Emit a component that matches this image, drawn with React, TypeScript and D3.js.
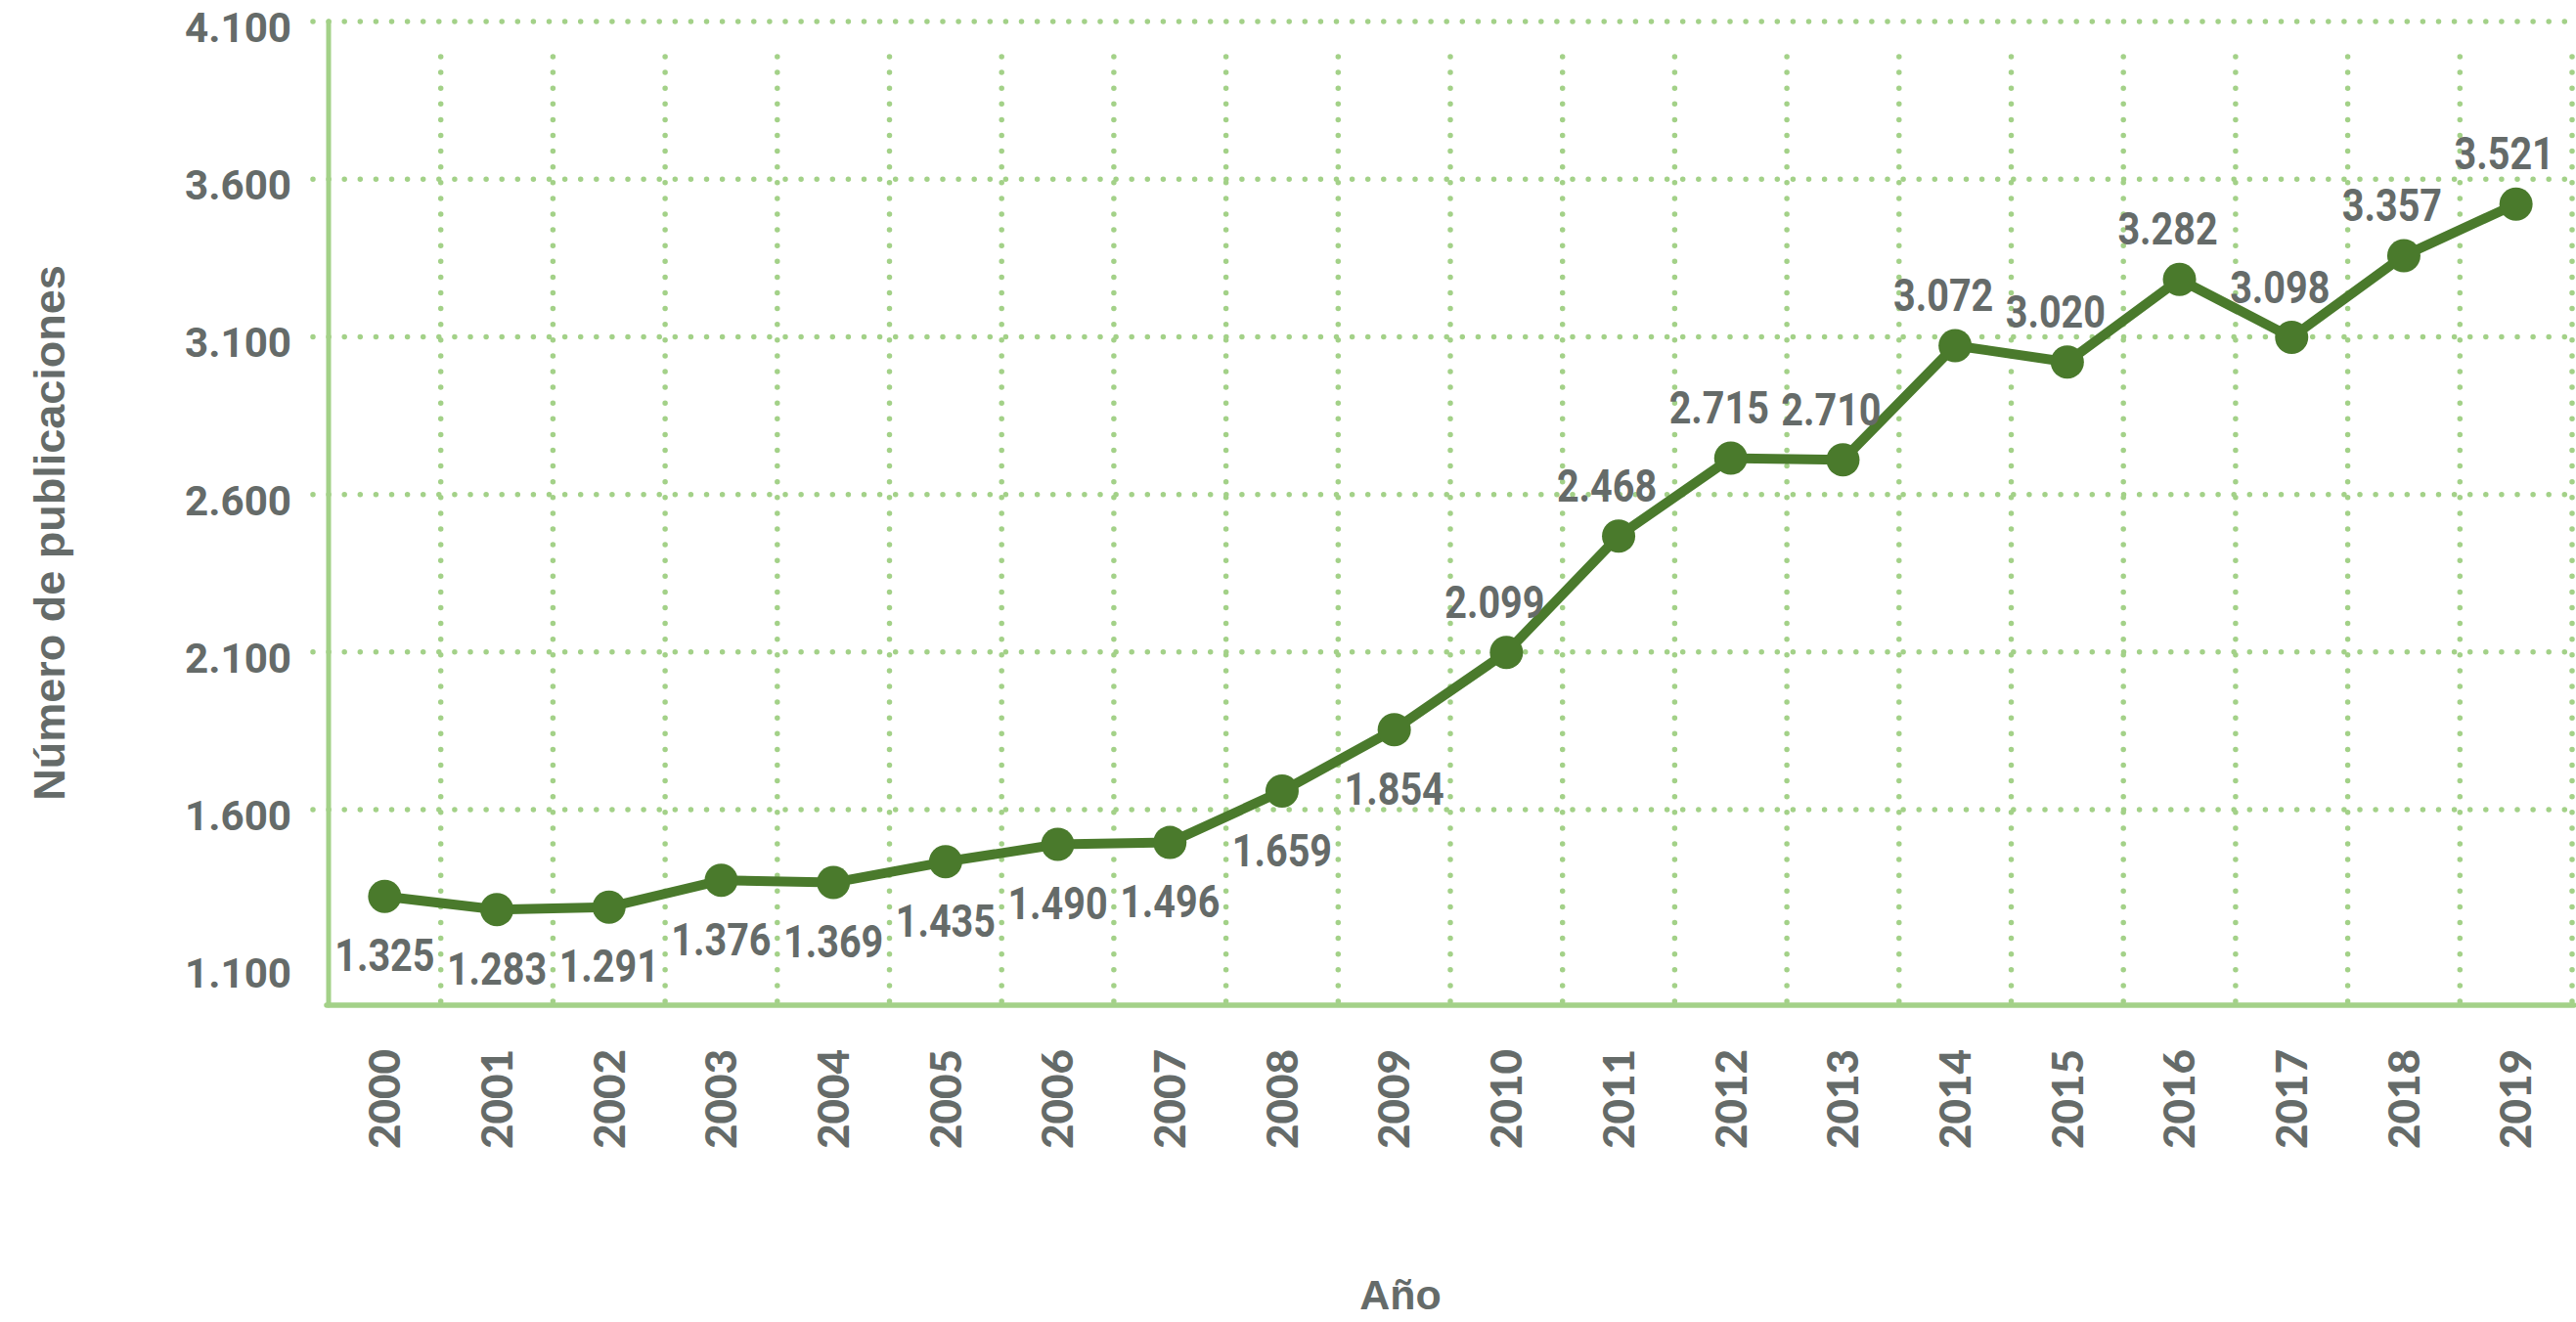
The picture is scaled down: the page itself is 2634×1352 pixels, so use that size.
import React, { useEffect, useRef } from "react";
import { select, scaleBand, scaleLinear, line, range, formatLocale } from "d3";

// publicaciones por año
const years = ["2000", "2001", "2002", "2003", "2004", "2005", "2006", "2007", "2008", "2009",
  "2010", "2011", "2012", "2013", "2014", "2015", "2016", "2017", "2018", "2019"];
const publications = [1325, 1283, 1291, 1376, 1369, 1435, 1490, 1496, 1659, 1854,
  2099, 2468, 2715, 2710, 3072, 3020, 3282, 3098, 3357, 3521];
const yTicks = [1100, 1600, 2100, 2600, 3100, 3600, 4100];

const W = 2634;
const H = 1352;
const GRAY = "#656b69";
const DARK = "#4a7a2c";
const LIGHT = "#a3d188";

const es = formatLocale({ decimal: ",", thousands: ".", grouping: [3], currency: ["", ""] });
const fmt = es.format(",d");

function App() {
  const svgRef = useRef(null);

  useEffect(() => {
    const svg = select(svgRef.current);
    svg.selectAll("*").remove();

    const x = scaleBand().domain(years).range([336, 2630]).padding(0);
    const y = scaleLinear().domain([980, 4100]).range([1028, 22]);
    const cx = d => x(d) + x.bandwidth() / 2;
    const bottom = y.range()[0];
    const top = y.range()[1];

    // horizontal dotted grid (no line at the lowest tick)
    svg.append("g")
      .selectAll("line")
      .data(yTicks.slice(1))
      .join("line")
      .attr("x1", x.range()[0] - 16)
      .attr("x2", W)
      .attr("y1", d => y(d))
      .attr("y2", d => y(d))
      .attr("stroke", LIGHT)
      .attr("stroke-width", 5.5)
      .attr("stroke-linecap", "round")
      .attr("stroke-dasharray", "0 16.1");

    // vertical dotted grid at band edges
    svg.append("g")
      .selectAll("line")
      .data(range(1, years.length + 1))
      .join("line")
      .attr("x1", i => x.range()[0] + i * x.step())
      .attr("x2", i => x.range()[0] + i * x.step())
      .attr("y1", bottom - 4)
      .attr("y2", top + 32)
      .attr("stroke", LIGHT)
      .attr("stroke-width", 5.5)
      .attr("stroke-linecap", "round")
      .attr("stroke-dasharray", "0 16.1");

    // axes lines
    svg.append("line")
      .attr("x1", x.range()[0]).attr("x2", x.range()[0])
      .attr("y1", top).attr("y2", bottom)
      .attr("stroke", LIGHT).attr("stroke-width", 5).attr("stroke-linecap", "round");
    svg.append("line")
      .attr("x1", x.range()[0] - 2).attr("x2", W - 2)
      .attr("y1", bottom).attr("y2", bottom)
      .attr("stroke", LIGHT).attr("stroke-width", 5.5).attr("stroke-linecap", "round");

    // y tick labels
    svg.append("g")
      .selectAll("text")
      .data(yTicks)
      .join("text")
      .attr("transform", d => `translate(298,${y(d) + 6}) scale(0.98,1)`)
      .attr("text-anchor", "end")
      .attr("dy", "0.35em")
      .attr("font-family", "Roboto")
      .attr("font-weight", 700)
      .attr("font-size", 43)
      .attr("fill", GRAY)
      .text(d => fmt(d));

    // year labels
    svg.append("g")
      .selectAll("text")
      .data(years)
      .join("text")
      .attr("transform", d => `translate(${cx(d)},1073) rotate(-90)`)
      .attr("text-anchor", "end")
      .attr("dy", "0.36em")
      .attr("font-family", "Lato")
      .attr("font-weight", 900)
      .attr("font-size", 44)
      .attr("fill", GRAY)
      .text(d => d);

    // axis titles
    svg.append("text")
      .attr("transform", "translate(50,545) rotate(-90)")
      .attr("text-anchor", "middle")
      .attr("dy", "0.35em")
      .attr("font-family", "Liberation Sans")
      .attr("font-weight", 700)
      .attr("font-size", 45)
      .attr("fill", GRAY)
      .text("Número de publicaciones");
    svg.append("text")
      .attr("x", 1432)
      .attr("y", 1339)
      .attr("text-anchor", "middle")
      .attr("font-family", "Liberation Sans")
      .attr("font-weight", 700)
      .attr("font-size", 43)
      .attr("fill", GRAY)
      .text("Año");

    // series
    const pts = years.map((yr, i) => ({ yr, v: publications[i] }));
    const path = line().x(d => cx(d.yr)).y(d => y(d.v));
    svg.append("path")
      .attr("d", path(pts))
      .attr("fill", "none")
      .attr("stroke", DARK)
      .attr("stroke-width", 10)
      .attr("stroke-linejoin", "round");
    svg.append("g")
      .selectAll("circle")
      .data(pts)
      .join("circle")
      .attr("cx", d => cx(d.yr))
      .attr("cy", d => y(d.v))
      .attr("r", 17)
      .attr("fill", DARK);

    // value labels: below until 2009, above afterwards
    svg.append("g")
      .selectAll("text")
      .data(pts)
      .join("text")
      .attr("transform", d => {
        const above = +d.yr >= 2010;
        const lx = cx(d.yr) + (above ? -12 : 0);
        const ly = y(d.v) + (above ? -52 : 60);
        return `translate(${lx},${ly}) scale(0.86,1)`;
      })
      .attr("text-anchor", "middle")
      .attr("dy", "0.36em")
      .attr("font-family", "Roboto")
      .attr("font-weight", 700)
      .attr("font-size", 46)
      .attr("fill", GRAY)
      .text(d => fmt(d.v));
  }, []);

  return (
    <svg
      ref={svgRef}
      width={W}
      height={H}
      style={{ position: "absolute", left: 0, top: 0, background: "#fff" }}
    />
  );
}

export default App;
